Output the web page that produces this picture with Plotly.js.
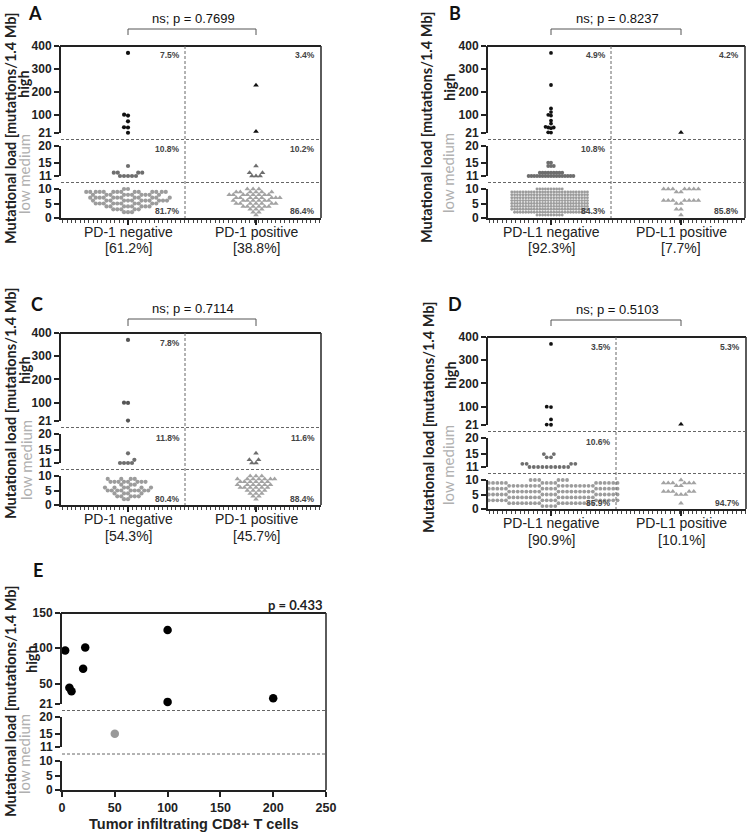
<!DOCTYPE html>
<html><head><meta charset="utf-8">
<script src="https://cdn.plot.ly/plotly-3.0.1.min.js"></script>
<style>html,body{margin:0;padding:0;background:#fff}#chart{width:750px;height:835px}</style>
</head><body><div id="chart"></div>
<script>
// ================= DATA =================
// low: counts of patients at mutational load 0..10 ; med: counts at 11..20 ; high: individual values
const A_neg_low  = [0,0,3,5,8,10,12,12,10,14,2];
const A_neg_med  = [5,4,0,1,0,0,0,0,0,0];
const A_neg_high = [370,101,97,72,46,45,22];
const A_pos_low  = [0,1,2,3,6,7,7,8,8,6,3];
const A_pos_med  = [3,2,0,1,0,0,0,0,0,0];
const A_pos_high = [229,27];

const B_neg_low  = [0,10,26,28,28,28,28,28,28,28,10];
const B_neg_med  = [17,9,0,3,2,0,0,0,0,0];
const B_neg_high = [370,230,128,112,100,97,75,62,48,45,45,42,24,23];
const B_pos_low  = [0,1,0,2,0,2,7,0,0,2,7];
const B_pos_med  = [0,0,0,0,0,0,0,0,0,0];
const B_pos_high = [23];

const C_neg_low  = [0,0,2,5,4,9,6,3,8,4,0];
const C_neg_med  = [4,1,0,1,0,0,0,0,0,0];
const C_neg_high = [370,100,99,23];
const C_pos_low  = [0,0,1,2,3,4,6,6,6,7,3];
const C_pos_med  = [2,2,0,1,0,0,0,0,0,0];
const C_pos_high = [];

const D_neg_low  = [0,4,17,17,17,17,17,17,17,17,6];
const D_neg_med  = [10,4,0,2,2,0,0,0,0,0];
const D_neg_high = [370,100,98,45,23,22];
const D_pos_low  = [0,0,1,0,0,3,5,0,2,6,1];
const D_pos_med  = [0,0,0,0,0,0,0,0,0,0];
const D_pos_high = [24];

const catsA = [['PD-1 negative','[61.2%]'],['PD-1 positive','[38.8%]']];
const catsB = [['PD-L1 negative','[92.3%]'],['PD-L1 positive','[7.7%]']];
const catsC = [['PD-1 negative','[54.3%]'],['PD-1 positive','[45.7%]']];
const catsD = [['PD-L1 negative','[90.9%]'],['PD-L1 positive','[10.1%]']];
const pctA = [['7.5%','10.8%','81.7%'],['3.4%','10.2%','86.4%']];
const pctB = [['4.9%','10.8%','84.3%'],['4.2%','','85.8%']];
const pctC = [['7.8%','11.8%','80.4%'],['','11.6%','88.4%']];
const pctD = [['3.5%','10.6%','85.9%'],['5.3%','','94.7%']];
const pvals = ['ns; p = 0.7699','ns; p = 0.8237','ns; p = 0.7114','ns; p = 0.5103'];

// Panel E
const E_high_x = [3,7,9,20,22,100,100,200];
const E_high_y = [97,44,39,71,101,126,24,29];
const E_med_x  = [50];
const E_med_y  = [15];
const E_xticks = [0,50,100,150,200,250];

// ================= LAYOUT GEOMETRY =================
const W=750, H=835;
const X = px => px/W, Y = py => 1 - py/H;
const FT = 'Liberation Sans, Arial, sans-serif';
const FC = 'Lato, Liberation Sans, sans-serif';

const panels = [
 {L:'A', x0:61, x1:321, c0:128, c1:256, vd:185, high:[46,133], med:[146,176], low:[189,218], brk:[18,29,35], letter:[35,13], ytitle:[10,128], hi:[23,84], lm:[24,174],
  data:[[A_neg_low,A_neg_med,A_neg_high],[A_pos_low,A_pos_med,A_pos_high]], cats:catsA, pct:pctA, sz:[4.2,5], dd:[4.0,4.1], hc:'#111'},
 {L:'B', x0:488, x1:745, c0:551, c1:681, vd:611, high:[46,133], med:[146,176], low:[189,218], brk:[18,29,35], letter:[455,13], ytitle:[426,127], hi:[450,87], lm:[448,173],
  data:[[B_neg_low,B_neg_med,B_neg_high],[B_pos_low,B_pos_med,B_pos_high]], cats:catsB, pct:pctB, sz:[2.9,5], dd:[2.8,4.6], hc:'#111'},
 {L:'C', x0:61, x1:321, c0:128, c1:256, vd:185, high:[333,421], med:[434,463], low:[476,505], brk:[308,319,326], letter:[37,304], ytitle:[10,403], hi:[25,370], lm:[26,460],
  data:[[C_neg_low,C_neg_med,C_neg_high],[C_pos_low,C_pos_med,C_pos_high]], cats:catsC, pct:pctC, sz:[4.2,5], dd:[4.0,4.1], hc:'#555'},
 {L:'D', x0:488, x1:746, c0:551, c1:681, vd:616, high:[337,425], med:[438,467], low:[480,509], brk:[309,320,326], letter:[455,304], ytitle:[428,417], hi:[450,375], lm:[448,465],
  data:[[D_neg_low,D_neg_med,D_neg_high],[D_pos_low,D_pos_med,D_pos_high]], cats:catsD, pct:pctD, sz:[3.8,5], dd:[4.3,4.6], hc:'#111'}
];
const PE = {L:'E', x0:62, x1:326, high:[613,704], med:[717,747], low:[761,790], letter:[38,570], ytitle:[10,701], hi:[31,659], lm:[24,754]};

const traces = [], shapes = [], annotations = [];
const layout = {width:W, height:H, margin:{l:0,r:0,t:0,b:0}, showlegend:false,
  paper_bgcolor:'#fff', plot_bgcolor:'rgba(0,0,0,0)', font:{family:FT, color:'#222'}, shapes, annotations};

function yAxisDef(xid, seg, range, ticks){
  return {domain:[Y(seg[1]), Y(seg[0])], range:range, anchor:xid, showline:true, linewidth:2, linecolor:'#222',
    ticks:'outside', ticklen:5, tickwidth:2, tickcolor:'#222', tickvals:ticks, showgrid:false, zeroline:false,
    tickfont:{family:FT, size:12, weight:700, color:'#222'}, fixedrange:true};
}
function line(x0,y0,x1,y1,opt){ shapes.push(Object.assign({type:'line', xref:'paper', yref:'paper', x0:X(x0), y0:Y(y0), x1:X(x1), y1:Y(y1), line:{color:'#222', width:2}}, opt||{})); }
function text(x,y,t,opt){ annotations.push(Object.assign({xref:'paper', yref:'paper', x:X(x), y:Y(y), text:t, showarrow:false, xanchor:'center', yanchor:'middle'}, opt||{})); }
function anchorTrace(xid, yid){ traces.push({type:'scatter', mode:'markers', x:[], y:[], xaxis:xid, yaxis:yid, hoverinfo:'skip'}); }

function frame(p){
  line(p.x0-1, p.high[0], p.x1, p.high[0], {line:{color:'#222', width:2.2}});
  line(p.x1, p.high[0], p.x1, p.low[1], {line:{color:'#333', width:1.6}});
  const g1 = (p.high[1]+p.med[0])/2, g2 = (p.med[1]+p.low[0])/2;
  line(p.x0, g1, p.x1, g1, {line:{color:'#666', width:1, dash:'3px,2px'}});
  line(p.x0, g2, p.x1, g2, {line:{color:'#666', width:1, dash:'3px,2px'}});
  text(p.letter[0], p.letter[1], p.L, {font:{family:FC, size:18, weight:700, color:'#111'}});
  text(p.ytitle[0], p.ytitle[1], 'Mutational load [mutations/1.4 Mb]', {textangle:-90, font:{family:FC, size:14.5, weight:700, color:'#222'}});
  text(p.hi[0], p.hi[1], 'high', {textangle:-90, font:{family:FC, size:14.5, weight:700, color:'#222'}});
  text(p.lm[0], p.lm[1], 'low medium', {textangle:-90, font:{family:FC, size:15, color:'#b0b0b0'}});
}

function pixY(p, v, hr){
  const seg = v <= 10 ? [p.low,[0,10]] : (v <= 20 ? [p.med,[11,20]] : [p.high,hr]);
  const [top,bot] = seg[0], [lo,hi] = seg[1];
  return bot - (v-lo)/(hi-lo)*(bot-top);
}
function swarm(ys, d){
  const placed = [], xs = [];
  ys.forEach(y => {
    const near = placed.filter(q => Math.abs(q.y-y) < d);
    const c = [0];
    near.forEach(q => { const h = Math.sqrt(d*d-(q.y-y)*(q.y-y)); c.push(q.x-h, q.x+h); });
    c.sort((a,b) => Math.abs(a)-Math.abs(b) || a-b);
    let xx = 0;
    for (const cand of c){ if (near.every(q => (cand-q.x)*(cand-q.x)+(y-q.y)*(y-q.y) >= d*d-1e-6)) { xx = cand; break; } }
    placed.push({x:xx, y:y}); xs.push(xx);
  });
  return xs;
}

panels.forEach((p, i) => {
  const xid = i===0 ? 'x' : 'x'+(i+1);
  const xkey = i===0 ? 'xaxis' : 'xaxis'+(i+1);
  const yn = [3*i+1, 3*i+2, 3*i+3];
  const yid = yn.map(n => n===1 ? 'y' : 'y'+n);
  const ykey = yn.map(n => n===1 ? 'yaxis' : 'yaxis'+n);
  const ppu = p.c1 - p.c0;
  const xr = [(p.x0-p.c0)/ppu, (p.x1-p.c0)/ppu];
  const hr = [21,400];
  layout[xkey] = {domain:[X(p.x0), X(p.x1)], range:xr, anchor:yid[2], showline:true, linewidth:2, linecolor:'#222',
    ticks:'outside', ticklen:5, tickwidth:2, tickcolor:'#222', tickvals:[0,1], showticklabels:false, showgrid:false, zeroline:false,
    fixedrange:true,
    minor:{tickmode:'linear', tick0:0, dtick:0.034, ticks:'outside', ticklen:2.5, tickwidth:1, tickcolor:'#444', showgrid:false}};
  layout[ykey[0]] = yAxisDef(xid, p.high, hr, [21,100,200,300,400]);
  layout[ykey[1]] = yAxisDef(xid, p.med, [11,20], [11,15,20]);
  layout[ykey[2]] = yAxisDef(xid, p.low, [0,10], [0,5,10]);
  yid.forEach(y => anchorTrace(xid, y));
  frame(p);
  line(p.vd, p.high[0], p.vd, p.low[1], {line:{color:'#666', width:1, dash:'3px,2px'}});
  line(p.c0, p.brk[2], p.c0, p.brk[1], {line:{color:'#555', width:1}});
  line(p.c0, p.brk[1], p.c1, p.brk[1], {line:{color:'#555', width:1}});
  line(p.c1, p.brk[1], p.c1, p.brk[2], {line:{color:'#555', width:1}});
  text((p.c0+p.c1)/2+1, p.brk[0], pvals[i], {font:{family:FT, size:13, color:'#111'}});
  // category labels (two lines each)
  [p.c0, p.c1].forEach((cx, g) => {
    text(cx, p.low[1]+14, p.cats[g][0], {font:{family:FT, size:14, color:'#222'}});
    text(cx, p.low[1]+30.5, p.cats[g][1], {font:{family:FT, size:14, color:'#222'}});
  });

  [0,1].forEach(g => {
    const [low, med, high] = p.data[g];
    const vals = [];
    low.forEach((n,v) => { for (let k=0;k<n;k++) vals.push(v); });
    med.forEach((n,j) => { for (let k=0;k<n;k++) vals.push(11+j); });
    high.slice().sort((a,b)=>a-b).forEach(v => vals.push(v));
    const ys = vals.map(v => pixY(p, v, hr));
    const xs = swarm(ys, p.dd[g]);
    const sym = g===0 ? 'circle' : 'triangle-up';
    const cols = [p.hc, '#6e6e6e', g===0 ? '#9c9c9c' : '#a3a3a3'];
    const parts = [[],[],[]];
    vals.forEach((v,k) => { const s = v>20 ? 0 : (v>10 ? 1 : 2); parts[s].push([g + xs[k]/ppu, v]); });
    parts.forEach((pts, s) => {
      if (!pts.length) return;
      traces.push({type:'scatter', mode:'markers', x:pts.map(q=>q[0]), y:pts.map(q=>q[1]), xaxis:xid, yaxis:yid[s],
        marker:{symbol:sym, size:(s<2 && g===0) ? Math.max(p.sz[g],3.8) : p.sz[g], color:cols[s], line:{width:0}}, hoverinfo:'skip', cliponaxis:false});
    });
    const rx = g===0 ? p.vd-3 : p.x1-4;
    const py = [p.high[0]+9.5, p.med[0]+3.5, p.low[1]-6.5];
    p.pct[g].forEach((t,s) => { if (t) text(rx, py[s], t, {xanchor:'right', font:{family:FT, size:8.5, weight:700, color:'#444'}}); });
  });
});

// ---- Panel E ----
(function(){
  const p = PE;
  layout.xaxis5 = {domain:[X(p.x0), X(p.x1)], range:[0,250], anchor:'y15', showline:true, linewidth:2, linecolor:'#222',
    ticks:'outside', ticklen:5, tickwidth:2, tickcolor:'#222', tickvals:E_xticks, showgrid:false, zeroline:false,
    tickfont:{family:FT, size:12.5, weight:700, color:'#222'}, fixedrange:true};
  layout.yaxis13 = yAxisDef('x5', p.high, [21,150], [21,50,100,150]);
  layout.yaxis14 = yAxisDef('x5', p.med, [11,20], [11,15,20]);
  layout.yaxis15 = yAxisDef('x5', p.low, [0,10], [0,5,10]);
  ['y13','y14','y15'].forEach(y => anchorTrace('x5', y));
  frame(p);
  text(325, 605, 'p = 0.433', {xanchor:'right', font:{family:FC, size:13, weight:700, color:'#222'}});
  text(194, 824, 'Tumor infiltrating CD8+ T cells', {font:{family:FT, size:14.5, weight:700, color:'#222'}});
  traces.push({type:'scatter', mode:'markers', x:E_high_x, y:E_high_y, xaxis:'x5', yaxis:'y13',
    marker:{size:8.5, color:'#000'}, hoverinfo:'skip', cliponaxis:false});
  traces.push({type:'scatter', mode:'markers', x:E_med_x, y:E_med_y, xaxis:'x5', yaxis:'y14',
    marker:{size:8.5, color:'#999'}, hoverinfo:'skip', cliponaxis:false});
})();

Plotly.newPlot('chart', traces, layout, {staticPlot:true, displayModeBar:false});
</script></body></html>
